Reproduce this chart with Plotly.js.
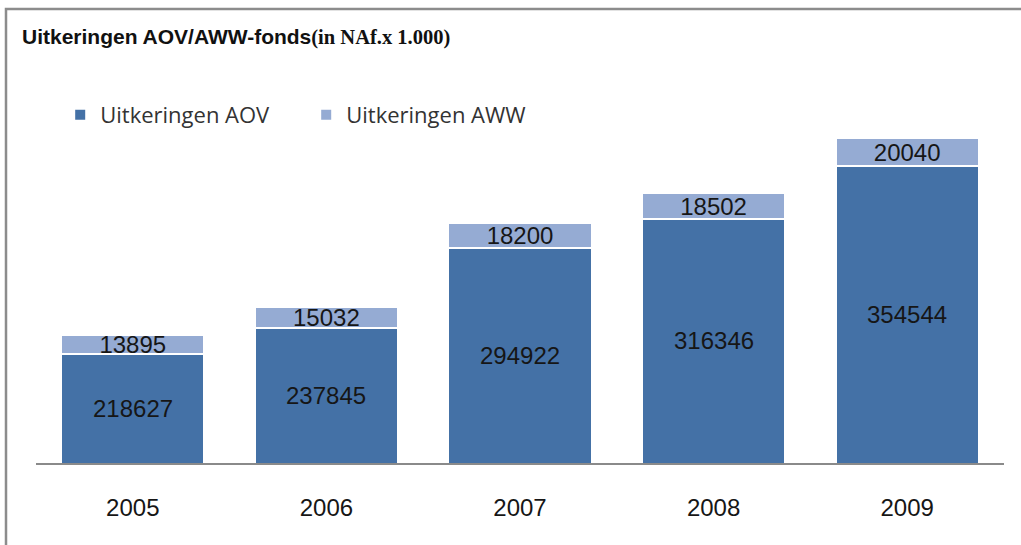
<!DOCTYPE html>
<html>
<head>
<meta charset="utf-8">
<script src="https://cdn.plot.ly/plotly-3.0.1.min.js"></script>
<style>html,body{margin:0;padding:0;background:#fff;}#chart{width:1021px;height:545px;}</style>
</head>
<body>
<div id="chart"></div>
<script>
const years = ['2005', '2006', '2007', '2008', '2009'];
const aov = [218627, 237845, 294922, 316346, 354544];
const aww = [13895, 15032, 18200, 18502, 20040];
const seriesNames = ['Uitkeringen AOV', 'Uitkeringen AWW'];
const yRange = [140000, 400000];

const labelFont = {family: 'Liberation Sans, Arial, sans-serif', size: 24, color: '#161616'};

const traces = [
  {
    type: 'bar', name: seriesNames[0], x: years, y: aov,
    textposition: 'none',
    marker: {color: '#4471A6', line: {color: '#ffffff', width: 2}},
    hoverinfo: 'x+y'
  },
  {
    type: 'bar', name: seriesNames[1], x: years, y: aww,
    text: aww.map(String), textposition: 'inside', insidetextanchor: 'middle',
    textfont: labelFont, constraintext: 'none',
    marker: {color: '#95ABD3', line: {color: '#ffffff', width: 2}},
    hoverinfo: 'x+y'
  }
];

// AOV labels centred in the visible part of each bar (axis starts above zero)
const aovLabels = years.map((yr, i) => ({
  x: i, y: (yRange[0] + aov[i]) / 2, xref: 'x', yref: 'y',
  text: String(aov[i]), showarrow: false, font: labelFont,
  xanchor: 'center', yanchor: 'middle'
}));

const layout = {
  width: 1021, height: 545,
  margin: {l: 36, r: 17, t: 103, b: 82},
  paper_bgcolor: '#ffffff', plot_bgcolor: '#ffffff',
  barmode: 'stack', bargap: 0.26,
  title: {
    text: '<b>Uitkeringen AOV/AWW-fonds</b><span style="font-family:Liberation Serif, Times New Roman, serif;font-size:20.5px;font-weight:bold">(in NAf.x 1.000)</span>',
    font: {family: 'Liberation Sans, Arial, sans-serif', size: 21, color: '#111'},
    x: 22/1021, xref: 'container', xanchor: 'left',
    y: 1 - 37/545, yref: 'container', yanchor: 'middle'
  },
  showlegend: true,
  legend: {
    orientation: 'h', x: 0.025, xanchor: 'left', y: 0.967, yanchor: 'middle',
    font: {family: 'Open Sans, sans-serif', size: 22, color: '#333'},
    traceorder: 'normal', itemwidth: 30, entrywidth: 201, entrywidthmode: 'pixels',
    bgcolor: 'rgba(0,0,0,0)'
  },
  xaxis: {
    type: 'category', categoryorder: 'array', categoryarray: years,
    range: [-0.5, years.length - 0.5],
    showline: true, linecolor: '#8a8a8a', linewidth: 2,
    showgrid: false, zeroline: false, ticks: '',
    ticklabelstandoff: 22,
    tickfont: labelFont, fixedrange: true
  },
  yaxis: {
    range: yRange, visible: false, showgrid: false, zeroline: false, fixedrange: true
  },
  annotations: aovLabels,
  shapes: [
    {type: 'rect', xref: 'paper', yref: 'paper',
     x0: (6 - 36) / 968, x1: 1.2, y0: -0.5, y1: (463 - 9) / 360,
     line: {color: '#8c8c8c', width: 2.5}, fillcolor: 'rgba(0,0,0,0)', layer: 'below'}
  ]
};

Plotly.newPlot('chart', traces, layout, {displayModeBar: false, staticPlot: true});
</script>
</body>
</html>
